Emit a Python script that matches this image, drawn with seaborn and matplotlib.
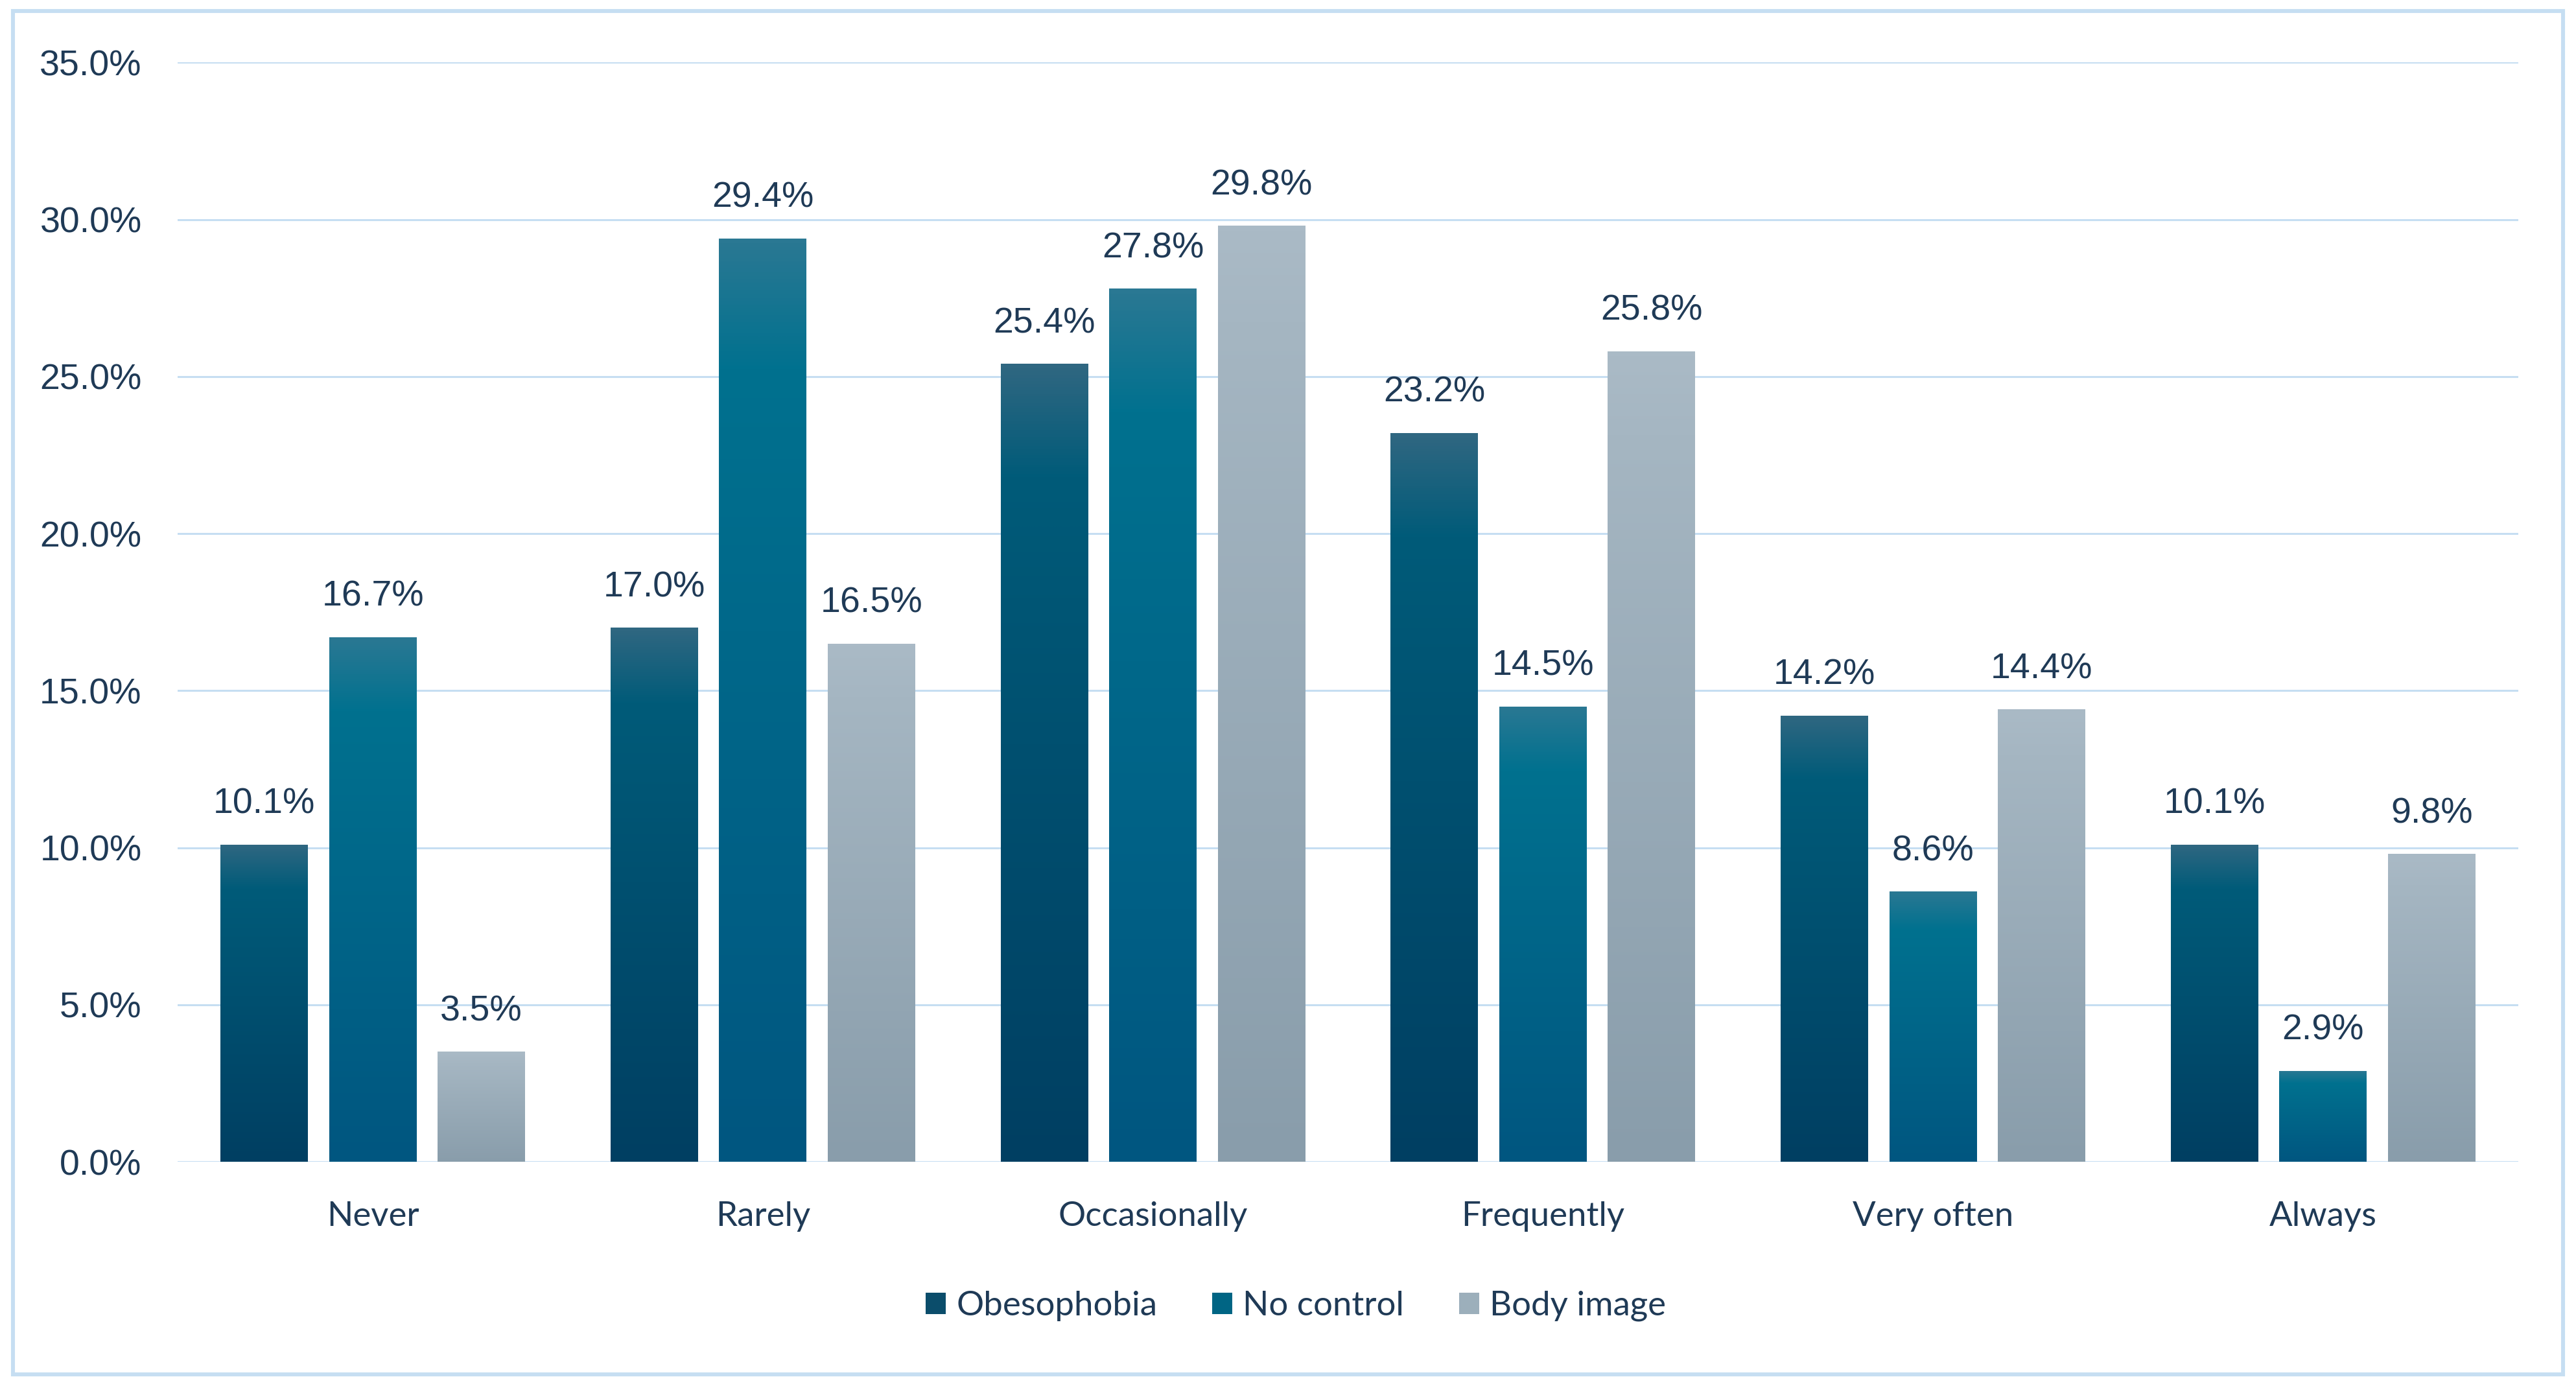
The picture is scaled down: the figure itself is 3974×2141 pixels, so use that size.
import numpy as np
import pandas as pd
import matplotlib
matplotlib.use("Agg")
import matplotlib.pyplot as plt
import seaborn as sns
from matplotlib.colors import LinearSegmentedColormap
from matplotlib.patches import Rectangle, Patch

# data (percent)
categories = ["Never", "Rarely", "Occasionally", "Frequently", "Very often", "Always"]
series = ["Obesophobia", "No control", "Body image"]
obesophobia = [10.1, 17.0, 25.4, 23.2, 14.2, 10.1]
no_control = [16.7, 29.4, 27.8, 14.5, 8.6, 2.9]
body_image = [3.5, 16.5, 29.8, 25.8, 14.4, 9.8]
y_ticks = [0, 5, 10, 15, 20, 25, 30, 35]

# gradient stops (position, colour) per series, bottom -> top
grads = {
    "Obesophobia": [(0.0, "#003f62"), (0.86, "#005b79"), (1.0, "#2f6781")],
    "No control": [(0.0, "#005680"), (0.86, "#00718f"), (1.0, "#2a7893")],
    "Body image": [(0.0, "#899dab"), (0.9, "#a5b6c2"), (1.0, "#aabac6")],
}
flat = {"Obesophobia": "#0b4d6b", "No control": "#006584", "Body image": "#9cafbb"}

text_c = "#1f3a56"
grid_c = "#c6def2"

df = pd.DataFrame({
    "cat": np.repeat(categories, 3),
    "series": series * len(categories),
    "val": [v for trio in zip(obesophobia, no_control, body_image) for v in trio],
})

sns.set_theme(style="white")
plt.rcParams["font.family"] = ["Liberation Sans", "DejaVu Sans"]

fig = plt.figure(figsize=(19.87, 10.705), dpi=200)
ax = fig.add_axes([0.069, 0.163, 0.9085, 0.792])

sns.barplot(data=df, x="cat", y="val", hue="series", order=categories,
            hue_order=series, palette=flat, width=0.835, gap=0.195,
            linewidth=0, legend=False, ax=ax)

# vertical gradient fill inside each bar
grad = np.linspace(0, 1, 256).reshape(-1, 1)
for cont, name in zip(ax.containers, series):
    cmap = LinearSegmentedColormap.from_list(name, grads[name])
    for p in cont.patches:
        x, y, w, h = p.get_x(), p.get_y(), p.get_width(), p.get_height()
        im = ax.imshow(grad, extent=[x, x + w, y, y + h], origin="lower",
                       aspect="auto", cmap=cmap, zorder=p.get_zorder() + 0.1,
                       interpolation="bicubic")
        im.set_clip_path(p)
    ax.bar_label(cont, labels=[f"{v:.1f}%" for v in cont.datavalues],
                 padding=13, fontsize=20, color=text_c)

ax.set_xlim(-0.5, len(categories) - 0.5)
ax.set_ylim(0, 35)
ax.set_yticks(y_ticks)
ax.set_yticklabels([f"{t:.1f}%" for t in y_ticks], fontsize=20, color=text_c)
ax.set_xticks(range(len(categories)))
ax.set_xticklabels(categories, fontsize=19, color=text_c, family=["Lato", "DejaVu Sans"])
ax.tick_params(axis="y", length=0, pad=20)
ax.tick_params(axis="x", length=0, pad=22)
ax.set_xlabel("")
ax.set_ylabel("")
ax.grid(axis="y", color=grid_c, linewidth=1.1)
ax.set_axisbelow(True)
for s in ax.spines.values():
    s.set_visible(False)

handles = [Patch(facecolor=flat[s], edgecolor="none", label=s) for s in series]
leg = fig.legend(handles=handles, loc="center", bbox_to_anchor=(0.503, 0.059),
                 ncol=3, frameon=False, handlelength=0.6, handleheight=0.6,
                 handletextpad=0.3, columnspacing=1.6,
                 prop={"family": ["Lato", "DejaVu Sans"], "size": 19})
for t in leg.get_texts():
    t.set_color(text_c)

# light blue frame around the whole chart
fig.patches.append(Rectangle((0.005, 0.01), 0.99, 0.982, transform=fig.transFigure,
                             fill=False, edgecolor=grid_c, linewidth=2.2))

fig.savefig("out.png", dpi=200, facecolor="white")
